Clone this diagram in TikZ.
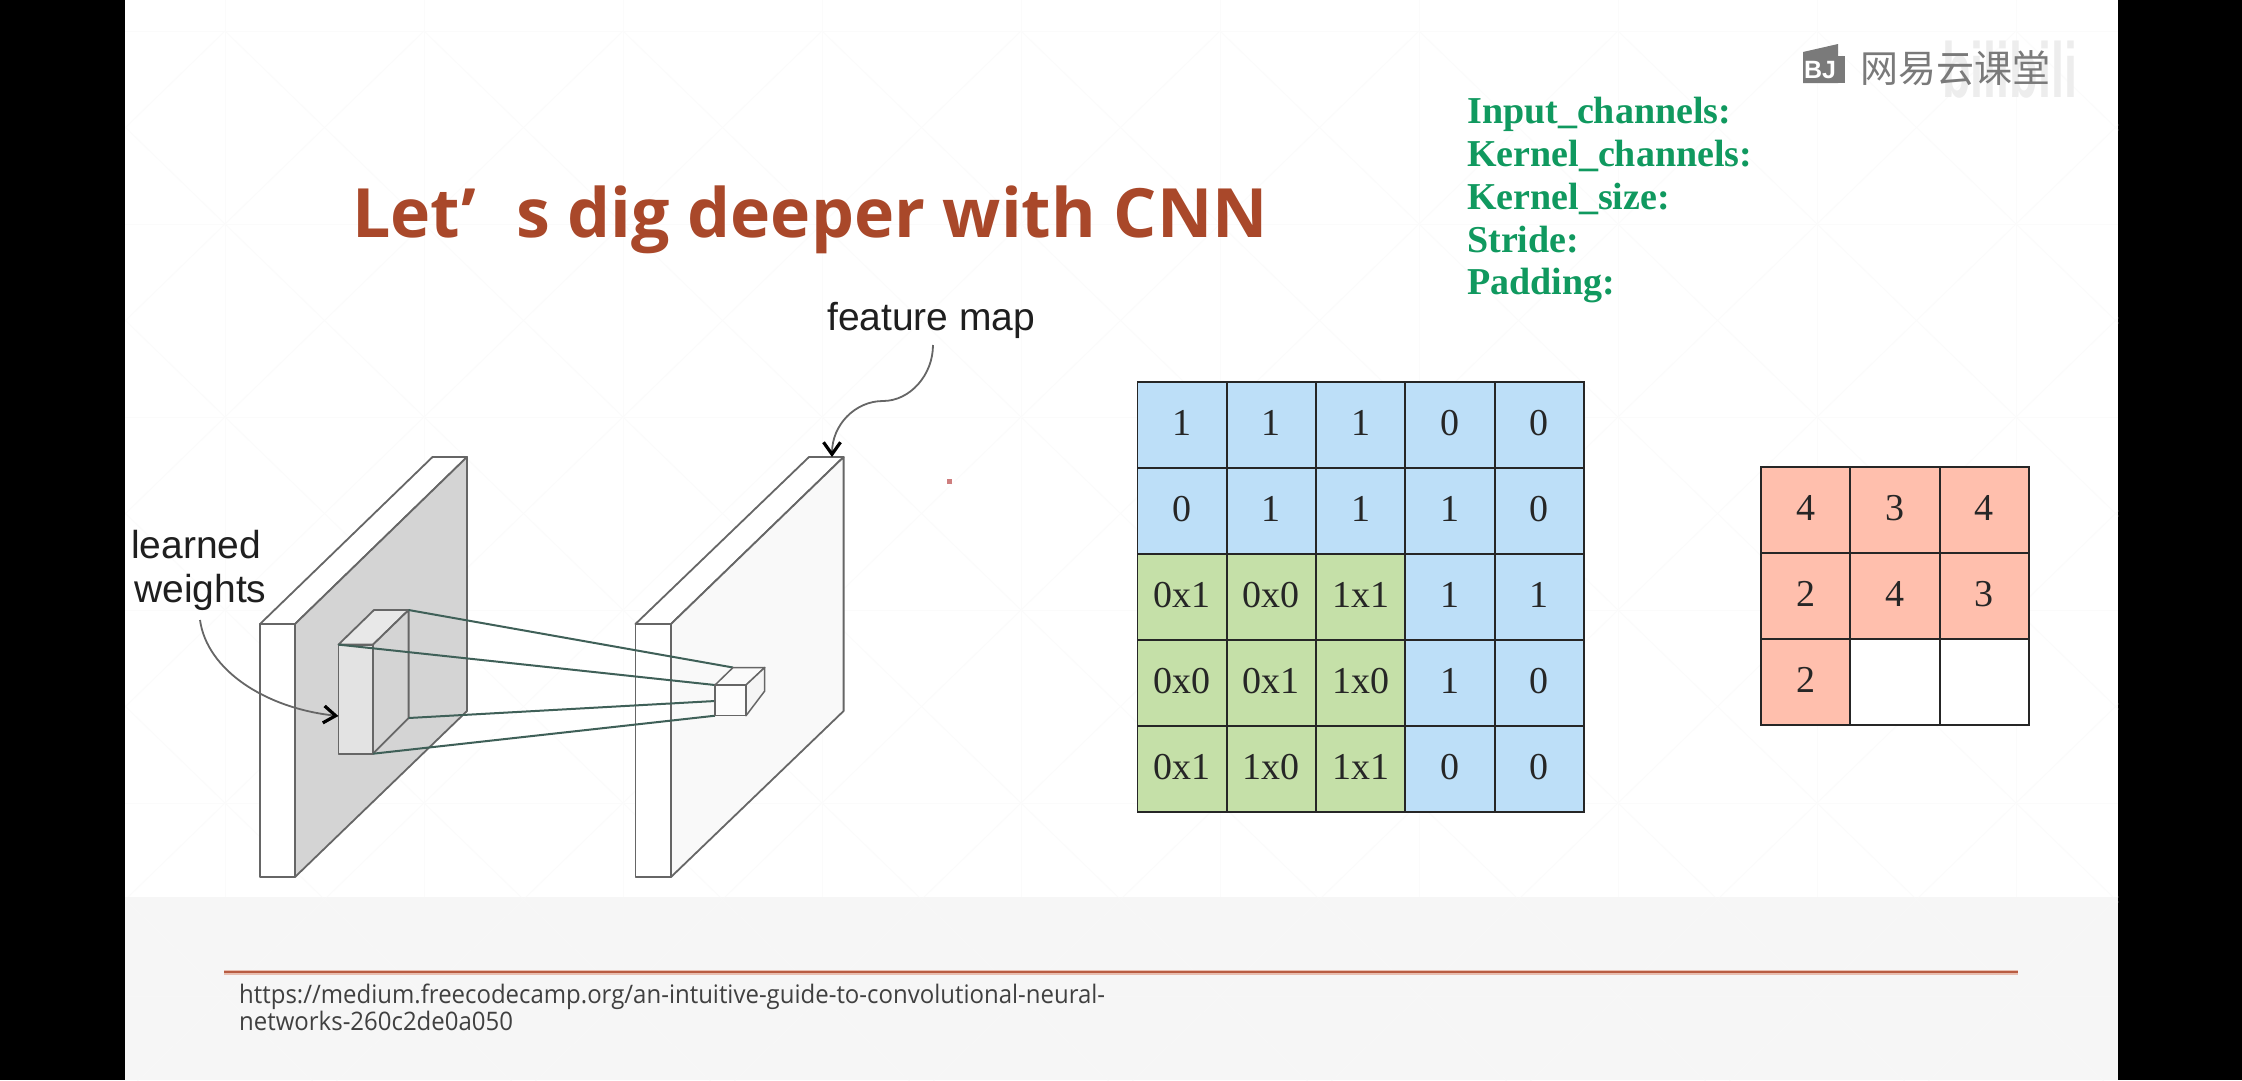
\documentclass[tikz,border=0pt]{standalone}
\usepackage{fontspec}
\usetikzlibrary{arrows.meta,calc}
\setmainfont{Liberation Serif}
\newfontfamily\titlefont{Open Sans}
\newfontfamily\labelfont{Liberation Sans}
\newfontfamily\linkfont[FakeStretch=0.94]{Open Sans}
\newfontfamily\bilifont[FakeStretch=0.6]{Liberation Sans}
\newfontfamily\cjkfont{Noto Sans CJK SC}
\definecolor{cellblue}{HTML}{BDDFF8}
\definecolor{cellgreen}{HTML}{C5E0A8}
\definecolor{cellred}{HTML}{FFBFAD}
\definecolor{titlec}{HTML}{A9482A}
\definecolor{paramc}{HTML}{10995F}
\definecolor{platel}{HTML}{666666}
\definecolor{wirec}{HTML}{3F6058}
\definecolor{patt}{HTML}{FBFBFB}
\tikzset{
  plate/.style={draw=platel,line width=1.8pt,line join=round},
  wire/.style={draw=wirec,line width=2pt},
  callout/.style={draw=platel,line width=1.8pt,-{Straight Barb[length=12pt,width=17pt,line width=3.2pt,black]}},
  matcell/.style={draw=black!85,line width=1.8pt,minimum width=89.3pt,minimum height=85.9pt,inner sep=0pt,font=\fontsize{38}{38}\selectfont,text=black!85},
  param/.style={anchor=base west,inner sep=0pt,text=paramc,font=\fontsize{38}{38}\selectfont\bfseries},
  lbl/.style={anchor=base west,inner sep=0pt,text=black!88,font=\labelfont\fontsize{39}{39}\selectfont},
  linktext/.style={anchor=base west,inner sep=0pt,text=black!75,font=\linkfont\fontsize{25.5}{25.5}\selectfont}
}
\begin{document}
\begin{tikzpicture}[x=1pt,y=-1pt]
\useasboundingbox (0,0) rectangle (2242,1080);
\fill[black] (0,0) rectangle (2242,1080);
\fill[white] (125,0) rectangle (2118,1080);
\fill[black!3.5] (125,897) rectangle (2118,1080);
% faint slide pattern
\begin{scope}
\clip (125,0) rectangle (2118,1080);
\foreach \i in {-1,...,9}{
  \draw[patt,line width=1pt] ({225+199*\i},0) -- ({225+199*\i},897);
  \foreach \j in {0,...,5}{
    \draw[patt,line width=1pt] ({225+199*\i},{31+193*\j}) -- ({424+199*\i},{224+193*\j});
    \draw[patt,line width=1pt] ({424+199*\i},{31+193*\j}) -- ({225+199*\i},{224+193*\j});
  }
}
\foreach \j in {0,...,5}{\draw[patt,line width=1pt] (125,{31+193*\j}) -- (2118,{31+193*\j});}
\end{scope}
\fill[black!3.5,opacity=.75] (125,897) rectangle (2118,1080);
% watermark
\node[anchor=base west,inner sep=0pt,text=black!7,font=\bilifont\bfseries\fontsize{78}{78}\selectfont] (bili) at (1942,97) {bilibili};
\filldraw[black!52,draw=none] (1803,52) -- (1838,44) -- (1838,83) -- (1803,83) -- cycle;
\fill[black!52] (1838,56) rectangle (1845,83);
\node[anchor=center,inner sep=0pt,text=white,font=\labelfont\bfseries\fontsize{25}{25}\selectfont] (logo) at (1820,70) {BJ};
\node[anchor=base west,inner sep=0pt,text=black!52,font=\cjkfont\fontsize{38}{38}\selectfont] (netease) at (1860,82.5) {网易云课堂};
% title
\node[anchor=base west,inner sep=0pt,text=titlec,font=\titlefont\bfseries\fontsize{68}{68}\selectfont] (title) at (352,237) {Let’\hspace{40pt}s dig deeper with CNN};
% parameters
\node[param] (p1) at (1467,123) {Input\_channels:};
\node[param] (p2) at (1467,166) {Kernel\_channels:};
\node[param] (p3) at (1467,209) {Kernel\_size:};
\node[param] (p4) at (1467,252) {Stride:};
\node[param] (p5) at (1467,294) {Padding:};
% left plate
\filldraw[plate,fill=white] (260,624) -- (432.5,457) -- (467,457) -- (295,624) -- cycle;
\filldraw[plate,fill=black!17] (295,624) -- (467,457) -- (467,711) -- (295,877) -- cycle;
\filldraw[plate,fill=white] (260,624) rectangle (295,877);
% kernel block
\coordinate (kA) at (338.4,644.6);
\coordinate (kB) at (373,644.6);
\coordinate (kC) at (373,753.7);
\coordinate (kD) at (338.4,753.7);
\coordinate (kE) at (374,610);
\coordinate (kF) at (408.6,610);
\coordinate (kG) at (408.6,718);
\filldraw[plate,fill=black!9] (kA) -- (kE) -- (kF) -- (kB) -- cycle;
\filldraw[plate,fill=black!17] (kB) -- (kF) -- (kG) -- (kC) -- cycle;
\filldraw[plate,fill=black!11] (kA) rectangle (kC);
% right plate
\filldraw[plate,fill=white] (635.4,624) -- (809,457) -- (843.6,457) -- (671,624) -- cycle;
\filldraw[plate,fill=black!2.5] (671,624) -- (843.6,457) -- (843.6,711) -- (671,877) -- cycle;
\filldraw[plate,fill=white] (635.4,624) rectangle (671,877);
% small block corners
\coordinate (sA) at (715,685);
\coordinate (sB) at (746,685);
\coordinate (sC) at (746,715.7);
\coordinate (sD) at (715,715.7);
\coordinate (sE) at (733,667.5);
\coordinate (sF) at (764.7,667.5);
\coordinate (sG) at (764.7,691);
\coordinate (sH) at (715,701);
% wires
\draw[wire] (kF) -- (sE);
\draw[wire] (kA) -- (sA);
\draw[wire] (kG) -- (sH);
\draw[wire] (kC) -- (sD);
% small block
\filldraw[plate,fill=black!2,line width=1.5pt] (sA) -- (sE) -- (sF) -- (sB) -- cycle;
\filldraw[plate,fill=black!4,line width=1.5pt] (sB) -- (sF) -- (sG) -- (sC) -- cycle;
\filldraw[plate,fill=black!1,line width=1.5pt] (sA) rectangle (sC);
% labels and callouts
\node[lbl] (learned) at (131,558) {learned};
\node[lbl] (weights) at (134,602) {weights};
\node[lbl] (fmap) at (827,330) {feature map};
\coordinate (lstart) at (200,620);
\coordinate (fstart) at (933,345);
\coordinate (fmid) at (883,401);
\coordinate (ftip) at (832,457);
\draw[callout] (lstart) .. controls (207,670) and (265,708) .. (kD |- 0,716);
\draw[callout] (fstart) .. controls (933,375) and (910,401) .. (fmid) .. controls (855,401) and (832,425) .. (ftip);
% 5x5 matrix
\foreach \r/\c/\f/\t in {
 0/0/cellblue/1,0/1/cellblue/1,0/2/cellblue/1,0/3/cellblue/0,0/4/cellblue/0,
 1/0/cellblue/0,1/1/cellblue/1,1/2/cellblue/1,1/3/cellblue/1,1/4/cellblue/0,
 2/0/cellgreen/0x1,2/1/cellgreen/0x0,2/2/cellgreen/1x1,2/3/cellblue/1,2/4/cellblue/1,
 3/0/cellgreen/0x0,3/1/cellgreen/0x1,3/2/cellgreen/1x0,3/3/cellblue/1,3/4/cellblue/0,
 4/0/cellgreen/0x1,4/1/cellgreen/1x0,4/2/cellgreen/1x1,4/3/cellblue/0,4/4/cellblue/0}{
  \node[matcell,fill=\f] (m\r\c) at ({1137.4+89.3*(\c+.5)},{382.3+85.9*(\r+.5)}) {\raisebox{4.5pt}{\t}};
}
% 3x3 result
\foreach \r/\c/\f/\t in {
 0/0/cellred/4,0/1/cellred/3,0/2/cellred/4,
 1/0/cellred/2,1/1/cellred/4,1/2/cellred/3,
 2/0/cellred/2,2/1/white/,2/2/white/}{
  \node[matcell,fill=\f] (n\r\c) at ({1761+89.3*(\c+.5)},{467+86*(\r+.5)}) {\raisebox{4.5pt}{\t}};
}
% stray mark
\fill[red!45!gray!70] (946.5,479) rectangle (951.5,483.5);
% footer
\coordinate (ruleL) at (224,972);
\coordinate (ruleR) at (2018,972);
\draw[color={rgb,255:red,232;green,190;blue,176},line width=5pt] (ruleL) -- (ruleR);
\draw[color={rgb,255:red,184;green,92;blue,66},line width=2.2pt] (ruleL) -- (ruleR);
\node[linktext] (link1) at (239,1003) {https://medium.freecodecamp.org/an-intuitive-guide-to-convolutional-neural-};
\node[linktext] (link2) at (239,1030) {networks-260c2de0a050};
\end{tikzpicture}
\end{document}
